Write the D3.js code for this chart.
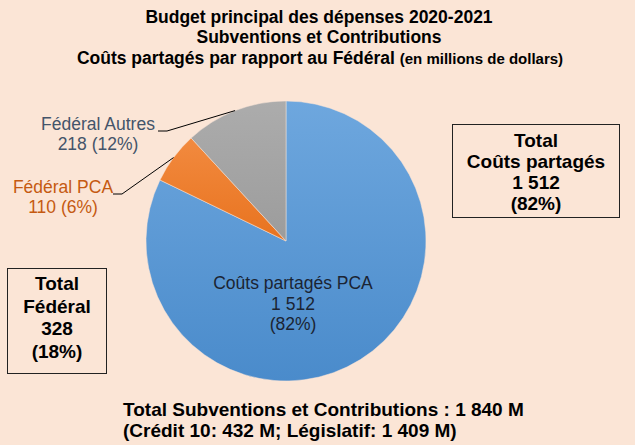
<!DOCTYPE html>
<html><head><meta charset="utf-8">
<script src="https://cdn.jsdelivr.net/npm/d3@7"></script>
<style>body{margin:0;background:#fbe5d6;}svg{display:block;font-family:"Liberation Sans",Arial,sans-serif;}</style>
</head><body>
<svg id="c" width="635" height="445"></svg>
<script>
const categories = ["Coûts partagés PCA", "Fédéral PCA", "Fédéral Autres"];
const values = [1512, 110, 218];
const percents = ["82%", "6%", "12%"];
const valueLabels = ["1 512", "110", "218"];
const colors = ["#5b9bd5", "#ed7d31", "#a5a5a5"];
const titleLines = ["Budget principal des dépenses 2020-2021", "Subventions et Contributions"];
const boxRight = ["Total", "Coûts partagés", "1 512", "(82%)"];
const boxLeft = ["Total", "Fédéral", "328", "(18%)"];
const footer = ["Total Subventions et Contributions : 1 840 M", "(Crédit 10: 432 M; Législatif: 1 409 M)"];

const svg = d3.select("#c");
svg.append("rect").attr("width",635).attr("height",445).attr("fill","#fbe5d6");

const defs = svg.append("defs");
const grads = [["#6ea7de","#4a8bcb"],["#f28a3f","#e8731f"],["#acacac","#9c9c9c"]];
grads.forEach((g,i)=>{
  const lg = defs.append("linearGradient").attr("id","g"+i).attr("x1",0).attr("y1",0).attr("x2",0).attr("y2",1);
  lg.append("stop").attr("offset","0%").attr("stop-color",g[0]);
  lg.append("stop").attr("offset","100%").attr("stop-color",g[1]);
});

// Title
const t = svg.append("g").attr("font-weight","bold").attr("text-anchor","middle").attr("fill","#000");
t.append("text").attr("x",319).attr("y",23).attr("font-size",17.5).text(titleLines[0]);
t.append("text").attr("x",319).attr("y",43).attr("font-size",17.5).text(titleLines[1]);
const t3 = t.append("text").attr("x",320).attr("y",64).attr("font-size",17.5);
t3.append("tspan").text("Coûts partagés par rapport au Fédéral ");
t3.append("tspan").attr("font-size",15).text("(en millions de dollars)");

// Pie
const cx = 286, cy = 241, r = 140;
const pie = d3.pie().sort(null).value(d=>d)(values);
const arc = d3.arc().innerRadius(0).outerRadius(r);
const pg = svg.append("g").attr("transform",`translate(${cx},${cy})`);
pg.selectAll("path").data(pie).join("path")
  .attr("d",arc).attr("fill",(d,i)=>`url(#g${i})`)
  .attr("stroke","#fbe5d6").attr("stroke-width",0.5);

// center label
const cl = pg.append("text").attr("text-anchor","middle").attr("font-size",17.5).attr("fill","#1b2433");
[categories[0], valueLabels[0], "("+percents[0]+")"].forEach((s,i)=>{
  cl.append("tspan").attr("x",7).attr("y",48+i*20.5).text(s);
});

// outside labels with leaders
function leader(i, tx, ty, hx, color){
  const c = pie[i];
  const mid = (c.startAngle + c.endAngle)/2;
  const px = cx + Math.sin(mid)*r, py = cy - Math.cos(mid)*r;
  svg.append("polyline").attr("points",`${hx},${ty+1} ${hx+9},${ty+1} ${px},${py}`)
    .attr("fill","none").attr("stroke","#000").attr("stroke-width",1);
  const tt = svg.append("text").attr("text-anchor","middle").attr("font-size",17.5).attr("fill",color);
  tt.append("tspan").attr("x",tx).attr("y",ty).text(categories[i]);
  tt.append("tspan").attr("x",tx).attr("y",ty+20).text(valueLabels[i]+" ("+percents[i]+")");
}
leader(2, 98, 130, 158, "#44546a");
leader(1, 63, 193, 113, "#c55a11");

// boxes
function box(x,y,w,h,lines,cxT,y0,dy){
  svg.append("rect").attr("x",x).attr("y",y).attr("width",w).attr("height",h)
    .attr("fill","none").attr("stroke","#222").attr("stroke-width",1);
  const bt = svg.append("text").attr("text-anchor","middle").attr("font-weight","bold").attr("font-size",19).attr("fill","#000");
  lines.forEach((s,i)=>bt.append("tspan").attr("x",cxT).attr("y",y0+i*dy).text(s));
}
box(452.5,124.5,167,93,boxRight,536,147,21);
box(7.5,268.5,99,105,boxLeft,57,290,22.5);

// footer
const f = svg.append("text").attr("font-weight","bold").attr("font-size",19).attr("fill","#000");
f.append("tspan").attr("x",123).attr("y",416).text(footer[0]);
f.append("tspan").attr("x",123).attr("y",437).text(footer[1]);
</script>
</body></html>
